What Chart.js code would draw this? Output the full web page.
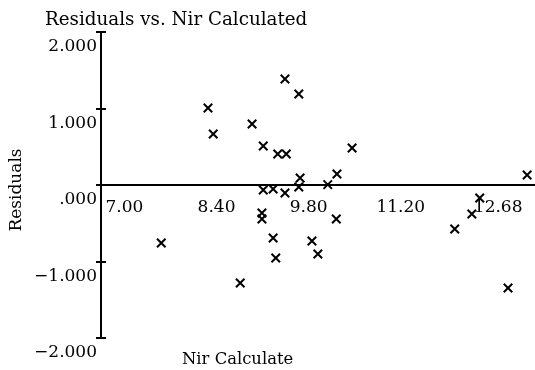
<!DOCTYPE html>
<html>
<head>
<meta charset="utf-8">
<script src="https://cdn.jsdelivr.net/npm/chart.js@4"></script>
<style>
  body { margin: 0; background: #fff; }
  #wrap { width: 535px; height: 370px; }
</style>
</head>
<body>
<div id="wrap"><canvas id="myChart" width="535" height="370"></canvas></div>
<script>
// tick values
var xTicks = [7.00, 8.40, 9.80, 11.20, 12.68];
var yTicks = [-2, -1, 0, 1, 2];

// Nir calculated (x) and residuals (y)
var nirCalc = [
    7.56, 8.27, 8.35, 8.76, 8.94, 9.11, 9.11, 9.09, 9.09, 9.26,
    9.26, 9.30, 9.33, 9.44, 9.46, 9.44, 9.65, 9.67, 9.65, 9.85,
    9.94, 10.09, 10.22, 10.23, 10.46, 12.02, 12.28, 12.40, 12.83, 13.12
];
var residuals = [
    -0.758, 1.007, 0.667, -1.281, 0.797, 0.510, -0.065, -0.366, -0.444, -0.052,
    -0.693, -0.954, 0.405, 1.386, 0.405, -0.105, 1.190, 0.092, -0.026, -0.732,
    -0.902, 0.005, -0.444, 0.144, 0.484, -0.575, -0.379, -0.170, -1.346, 0.131
];

var titleText = "Residuals vs. Nir Calculated";
var xTitle    = "Nir Calculate";
var yTitle    = "Residuals";

var serif = "'DejaVu Serif', serif";

var points = [];
for (let i = 0; i < nirCalc.length; i++) {
    points.push({x: nirCalc[i], y: residuals[i]});
}

function yLabel(v) {
    if (v == 0) return ".000";
    return (v < 0 ? "\u2212" : "") + Math.abs(v).toFixed(3);
}

// titles and the small crossing ticks on the y axis
var decorations = {
    id: "decorations",
    afterDraw: function(chart) {
        var c = chart.ctx;
        var ys = chart.scales.y;
        c.save();
        c.strokeStyle = "#000";
        c.lineWidth = 2;
        for (let i = 0; i < yTicks.length; i++) {
            let py = Math.round(ys.getPixelForValue(yTicks[i]));
            c.beginPath();
            c.moveTo(ys.right - 5, py);
            c.lineTo(ys.right + 5, py);
            c.stroke();
        }
        c.fillStyle = "#000";
        c.textAlign = "left";
        c.textBaseline = "alphabetic";
        c.font = "18.3px " + serif;
        c.fillText(titleText, 45, 25);
        c.font = "16.4px " + serif;
        c.fillText(xTitle, 182, 364);
        c.font = "17px " + serif;
        c.translate(17, 190);
        c.rotate(-Math.PI / 2);
        c.textAlign = "center";
        c.textBaseline = "middle";
        c.fillText(yTitle, 0, 0);
        c.restore();
    }
};

var ctx = document.getElementById("myChart");
var chart = new Chart(ctx, {
    type: 'scatter',
    data: {
        datasets: [{
            data: points,
            pointStyle: 'crossRot',
            pointRadius: 6,
            pointHoverRadius: 6,
            borderColor: '#000',
            backgroundColor: '#000',
            borderWidth: 2,
            clip: false
        }]
    },
    options: {
        responsive: false,
        animation: false,
        devicePixelRatio: 1,
        layout: {
            autoPadding: false,
            padding: { top: 32, bottom: 32, left: 0, right: 0 }
        },
        plugins: {
            legend: { display: false },
            tooltip: { enabled: false },
            title: { display: false }
        },
        scales: {
            x: {
                type: 'linear',
                position: { y: 0 },
                min: 6.644,
                max: 13.24,
                afterBuildTicks: function(scale) {
                    scale.ticks = xTicks.map(function(v) { return {value: v}; });
                },
                afterFit: function(scale) {
                    scale.paddingLeft = 0;
                    scale.paddingRight = 0;
                },
                grid: { display: false, drawTicks: false },
                border: { display: true, color: '#000', width: 2 },
                ticks: {
                    color: '#000',
                    font: { family: serif, size: 17 },
                    padding: 12,
                    autoSkip: false,
                    maxRotation: 0,
                    callback: function(v) { return Number(v).toFixed(2); }
                }
            },
            y: {
                type: 'linear',
                position: 'left',
                min: -2,
                max: 2,
                afterBuildTicks: function(scale) {
                    scale.ticks = yTicks.map(function(v) { return {value: v}; });
                },
                afterFit: function(scale) { scale.width = 101; },
                grid: { display: false, drawTicks: false },
                border: { display: true, color: '#000', width: 2 },
                ticks: {
                    color: '#000',
                    font: { family: serif, size: 17 },
                    padding: 4,
                    labelOffset: 15,
                    callback: function(v) { return yLabel(v); }
                }
            }
        }
    },
    plugins: [decorations]
});
</script>
</body>
</html>
